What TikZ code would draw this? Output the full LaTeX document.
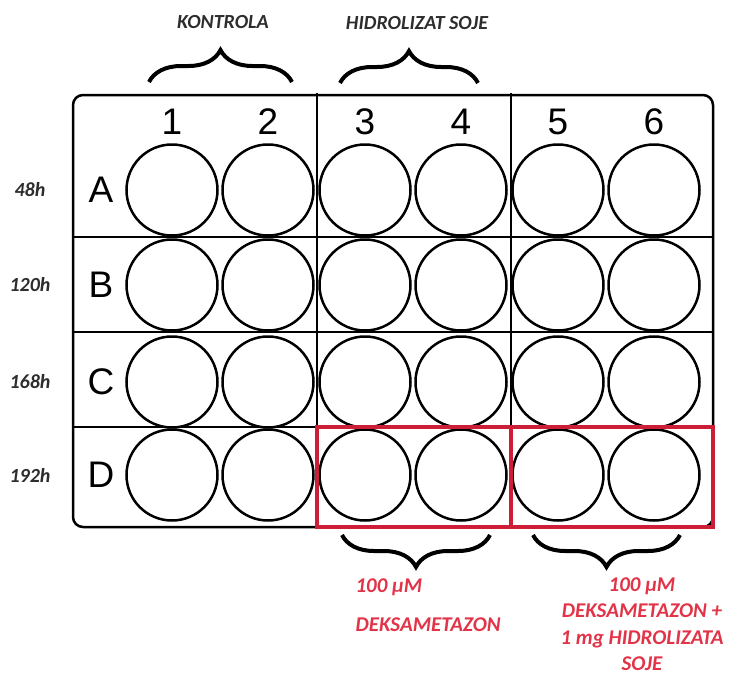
\documentclass[tikz,border=0pt]{standalone}
\usepackage{fontspec}
\setmainfont{Liberation Sans}
\newfontfamily\lblfont{Carlito}
\usetikzlibrary{decorations.pathreplacing}
\definecolor{platered}{RGB}{205,30,55}
\definecolor{notered}{RGB}{226,52,72}
\definecolor{notegray}{RGB}{45,45,45}

\begin{document}
\begin{tikzpicture}[x=1pt, y=-1pt,
    well/.style={draw, circle, line width=2.5pt, minimum size=91pt, inner sep=0pt},
    head/.style={font=\fontsize{37}{37}\selectfont, inner sep=0pt},
    note/.style={font=\lblfont\bfseries\itshape\fontsize{20}{24}\selectfont, text=notegray},
    rednote/.style={font=\lblfont\bfseries\itshape\fontsize{21}{26.5}\selectfont, text=notered},
    brc/.style={decorate, decoration={brace, amplitude=32pt}, line width=4pt},
    plateline/.style={line width=2.5pt},
    redbox/.style={draw=platered, line width=4pt}
  ]
  \useasboundingbox (0,0) rectangle (729,675);
  % plate outline and dividers
  \node[draw, plateline, rounded corners=10pt, minimum width=640pt, minimum height=432pt, inner sep=0pt] (plate) at (393,311) {};
  \draw[plateline] (73,237) -- (713,237) (73,332) -- (713,332) (73,427) -- (713,427);
  \draw[plateline] (317,93) -- (317,527) (511,93) -- (511,527);
  % wells
  \foreach \c/\x in {1/172, 2/268, 3/365, 4/461, 5/558, 6/654}
    \node[head] (col\c) at (\x,122) {\c};
  \foreach \r/\y/\t in {A/190/48h, B/285/120h, C/382/168h, D/475/192h} {
    \node[head] (row\r) at (101,\y) {\r};
    \node[note] (time\r) at (30,\y) {\t};
    \foreach \c/\x in {1/172, 2/268, 3/365, 4/461, 5/558, 6/654}
      \node[well] (\r\c) at (\x,\y) {};
  }
  \draw[redbox] (317,427) rectangle (511,527);
  \draw[redbox] (511,427) rectangle (713,527);
  % groups
  \coordinate (kl) at (149,82);
  \coordinate (kr) at (292,82);
  \coordinate (hl) at (340,83);
  \coordinate (hr) at (478,83);
  \coordinate (dl) at (342,535);
  \coordinate (dr) at (490,535);
  \coordinate (ml) at (533,535);
  \coordinate (mr) at (680,535);
  \draw[brc] (kl) -- (kr);
  \draw[brc] (hl) -- (hr);
  \draw[brc] (dr) -- (dl);
  \draw[brc] (mr) -- (ml);
  \node[note] (kontrola) at (223,22) {KONTROLA};
  \node[note] (hidro) at (417,23) {HIDROLIZAT SOJE};
  \node[rednote, anchor=west] (dose) at (352,587) {100 µM};
  \node[rednote, anchor=west] (deks) at (352,625) {DEKSAMETAZON};
  \node[rednote, align=center] (mix) at (642,624) {100 µM\\DEKSAMETAZON +\\1 mg HIDROLIZATA\\SOJE};
\end{tikzpicture}
\end{document}
